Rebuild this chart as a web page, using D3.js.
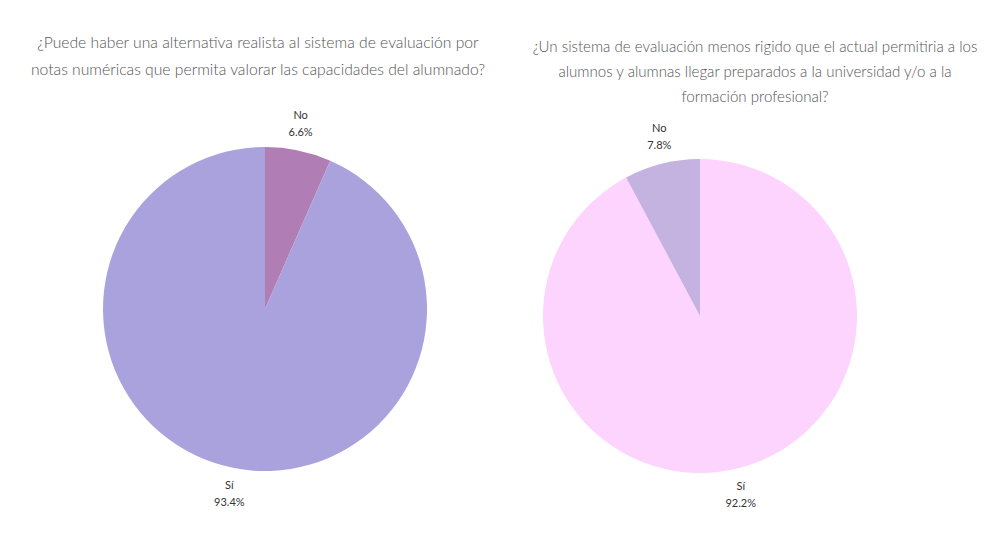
<!DOCTYPE html>
<html><head><meta charset="utf-8">
<script src="https://cdn.jsdelivr.net/npm/d3@7"></script>
<style>
html,body{margin:0;padding:0;background:#fff;}
svg{display:block;}
</style></head>
<body>
<svg id="chart" width="1000" height="534"></svg>
<script>
// ---- data ----
const leftTitle = ["¿Puede haber una alternativa realista al sistema de evaluación por",
                   "notas numéricas que permita valorar las capacidades del alumnado?"];
const leftCategories = ["No", "Sí"];
const leftValues = [6.6, 93.4];
const leftColors = ["#b07db5", "#aaa2dd"];

const rightTitle = ["¿Un sistema de evaluación menos rigido que el actual permitiria a los",
                    "alumnos y alumnas llegar preparados a la universidad y/o a la",
                    "formación profesional?"];
const rightCategories = ["Sí", "No"];
const rightValues = [92.2, 7.8];
const rightColors = ["#fdd4fd", "#c4b2e0"];

// ---- drawing ----
const svg = d3.select("#chart");
const FONT = "Lato, 'Open Sans', sans-serif";

function drawPie(cfg) {
  const g = svg.append("g");
  const t = g.append("text")
    .attr("font-family", FONT).attr("font-weight", 300)
    .attr("font-size", cfg.titleSize).attr("fill", "#555")
    .attr("text-anchor", "middle");
  cfg.title.forEach((line, i) => {
    t.append("tspan").attr("x", cfg.titleX).attr("y", cfg.titleY + i * cfg.titleLH).text(line);
  });

  const pie = d3.pie().sort(null).value(d => d.v);
  const data = cfg.cats.map((c, i) => ({c, v: cfg.vals[i], col: cfg.cols[i]}));
  const arcs = pie(data);
  const arc = d3.arc().innerRadius(0).outerRadius(cfg.r);
  const pg = g.append("g").attr("transform", `translate(${cfg.cx},${cfg.cy})`);
  pg.selectAll("path").data(arcs).join("path")
    .attr("d", arc).attr("fill", d => d.data.col);

  const total = d3.sum(cfg.vals);
  const fmt = d3.format(".1f");
  const lh = 17;
  arcs.forEach(a => {
    const mid = (a.startAngle + a.endAngle) / 2;
    const rr = cfg.r + 11;
    const x = Math.sin(mid) * rr;
    const y = -Math.cos(mid) * rr;
    const up = y < 0;
    const y1 = up ? y - lh - 4 : y + 11;
    const lt = pg.append("text")
      .attr("font-family", FONT).attr("font-size", 11).attr("fill", "#333")
      .attr("text-anchor", "middle");
    lt.append("tspan").attr("x", x).attr("y", y1).text(a.data.c);
    lt.append("tspan").attr("x", x).attr("y", y1 + lh).text(fmt(a.data.v / total * 100) + "%");
  });
}

drawPie({title: leftTitle, titleX: 258, titleY: 48, titleLH: 27, titleSize: 15.7,
         cats: leftCategories, vals: leftValues, cols: leftColors,
         cx: 265, cy: 309, r: 162});
drawPie({title: rightTitle, titleX: 755, titleY: 52, titleLH: 25, titleSize: 15.1,
         cats: rightCategories, vals: rightValues, cols: rightColors,
         cx: 700, cy: 316, r: 157});
</script>
</body></html>
